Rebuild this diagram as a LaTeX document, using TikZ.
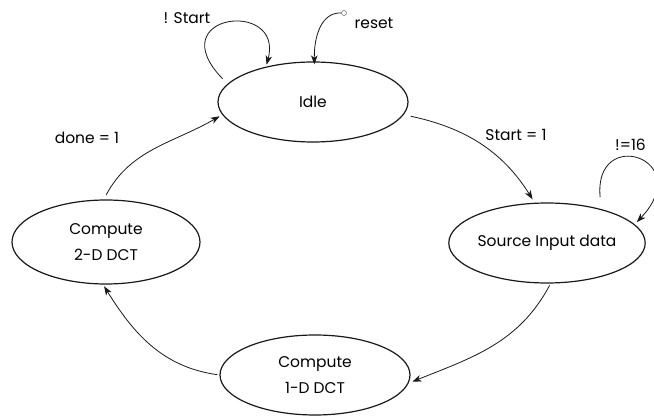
\documentclass[tikz,border=0pt]{standalone}
\usepackage{fontspec}
\setmainfont{Poppins}
\usetikzlibrary{arrows.meta,shapes.geometric}
\begin{document}
\begin{tikzpicture}[x=1pt,y=-1pt,
  state/.style={draw=black!90,line width=1.2pt,ellipse,inner sep=0pt,
    minimum width=190pt,minimum height=80pt,align=center,
    font=\fontsize{15.5}{26}\selectfont},
  edge/.style={draw=black!90,line width=0.8pt,
    -{Stealth[length=9pt,width=6.5pt,inset=2.5pt]}},
  lbl/.style={font=\fontsize{15.5}{18}\selectfont,inner sep=0pt}]
  \clip (0,0) rectangle (654,419);
  \fill[white] (0,0) rectangle (654,419);

  % states of the DCT controller
  \node[state] (idle) at (313,102) {Idle};
  \node[state,minimum width=188pt] (src) at (547,243) {Source Input data};
  \node[state] (dct1) at (315,375) {Compute\\1-D DCT};
  \node[state,minimum width=188pt,minimum height=84pt] (dct2) at (106,242) {Compute\\2-D DCT};

  % reset entry point
  \node[draw=black!60,fill=white,circle,inner sep=0pt,minimum size=5pt,line width=0.5pt] (rst) at (344,13) {};

  % transitions
  \draw[edge] (rst.west) .. controls (322,12) and (314,35) .. ([yshift=-3pt]idle.88);
  \draw[edge,shorten <=7pt,shorten >=2pt] (idle.168) .. controls +(-68,-70) and +(18,-68) .. (idle.143);
  \draw[edge,shorten <=7pt,shorten >=4pt] (idle.-8) to[out=-12,in=122] (src.107);
  \draw[edge,shorten <=12pt,shorten >=3pt] (src.32) .. controls +(-8,-84) and +(62,-66) .. (src.12);
  \draw[edge,shorten <=2pt,shorten >=4pt] (src.-85) to[out=-118,in=22] (dct1.-5);
  \draw[edge,shorten <=2pt,shorten >=2pt] (dct1.180) to[out=172,in=-58] (dct2.-94);
  \draw[edge,shorten <=5pt,shorten >=3pt] (dct2.93) to[out=62,in=-150] (idle.188);

  % transition labels
  \node[lbl] (l1) at (187,18) {! Start};
  \node[lbl] (l2) at (374,23) {reset};
  \node[lbl] (l3) at (516,135) {Start = 1};
  \node[lbl,anchor=west] (l4) at (615,145) {!=16};
  \node[lbl] (l5) at (87,138) {done = 1};
\end{tikzpicture}
\end{document}
